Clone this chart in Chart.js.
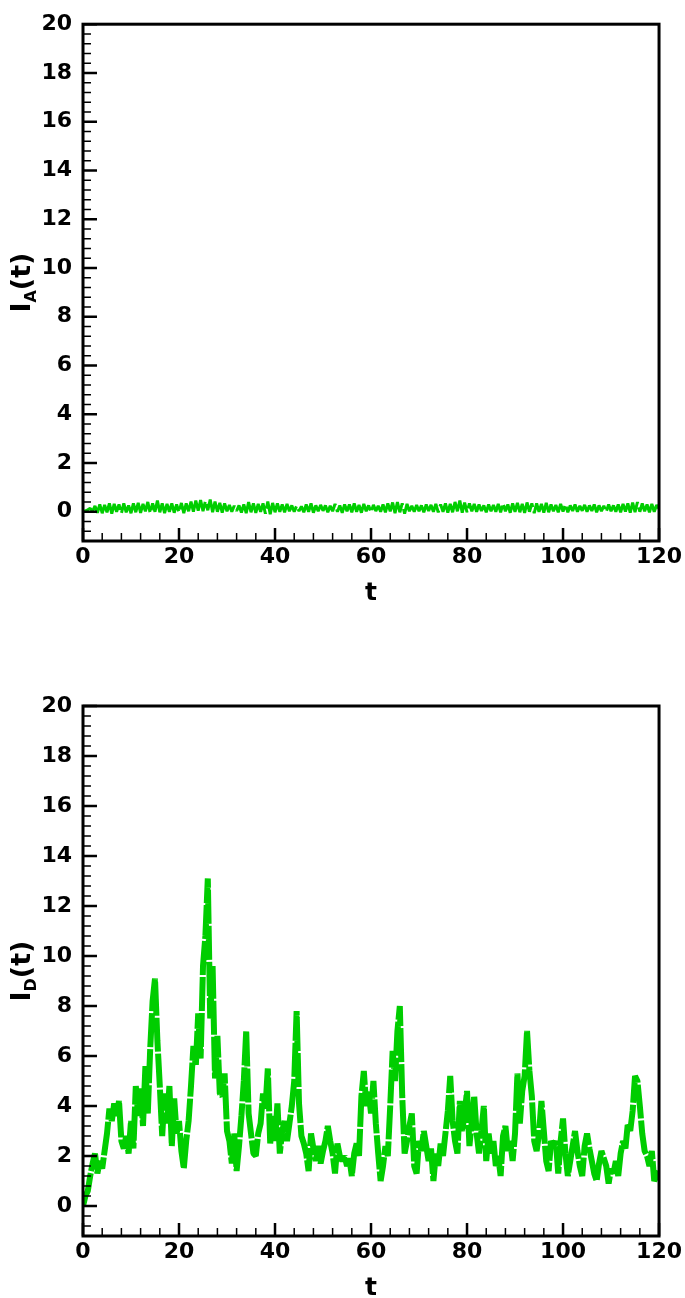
<!DOCTYPE html>
<html>
<head>
<meta charset="utf-8">
<script src="https://cdn.jsdelivr.net/npm/chart.js@4/dist/chart.umd.min.js"></script>
<style>
  body { margin: 0; background: #fff; }
  canvas { position: absolute; left: 0; }
</style>
</head>
<body>
<canvas id="chartA" width="685" height="649" style="top:0"></canvas>
<canvas id="chartD" width="685" height="649" style="top:649px"></canvas>
<script>
// samples every 0.5 time units, t = 0 ... 120
const tStep = 0.5;

const iA = [
  0, 0.04, 0.08, 0.14, 0.02, 0.24, -0.04, 0.3, -0.06, 0.28,
  -0.02, 0.34, -0.08, 0.32, 0.0, 0.3, -0.06, 0.34, -0.02, 0.26,
  -0.06, 0.34, -0.02, 0.36, -0.05, 0.32, 0.02, 0.4, -0.06, 0.34,
  0.0, 0.46, -0.02, 0.34, -0.06, 0.32, 0.0, 0.34, -0.04, 0.3,
  -0.02, 0.36, -0.06, 0.34, 0.02, 0.42, 0.0, 0.46, 0.04, 0.48,
  0.02, 0.44, 0.06, 0.5, -0.02, 0.42, 0.0, 0.36, -0.04, 0.34,
  0.02, 0.28, 0.0, 0.24, 0.04, 0.26, -0.03, 0.3, -0.06, 0.4,
  -0.02, 0.34, -0.05, 0.32, 0.0, 0.34, -0.08, 0.42, -0.1, 0.36,
  -0.02, 0.34, 0.0, 0.3, -0.02, 0.32, 0.02, 0.26, 0.0, 0.24,
  0.03, 0.22, -0.02, 0.3, 0.0, 0.34, -0.04, 0.26, 0.02, 0.28,
  0.04, 0.26, -0.02, 0.24, 0.02, 0.32, 0.0, 0.26, -0.04, 0.3,
  0.02, 0.3, -0.02, 0.34, 0.0, 0.28, -0.04, 0.32, 0.02, 0.26,
  -0.02, 0.28, 0.03, 0.24, 0.0, 0.3, -0.02, 0.34, 0.02, 0.38,
  -0.06, 0.4, -0.02, 0.34, -0.08, 0.32, 0.02, 0.24, 0.0, 0.28,
  0.02, 0.26, -0.02, 0.3, 0.03, 0.28, 0.0, 0.32, -0.02, 0.3,
  0.0, 0.34, -0.04, 0.32, -0.02, 0.4, 0.02, 0.46, -0.04, 0.38,
  -0.02, 0.34, 0.02, 0.32, 0.0, 0.3, 0.03, 0.26, -0.02, 0.3,
  0.02, 0.28, 0.0, 0.32, -0.02, 0.34, 0.02, 0.3, -0.04, 0.34,
  0.0, 0.36, -0.02, 0.32, -0.05, 0.38, 0.0, 0.34, -0.06, 0.34,
  0.0, 0.32, -0.04, 0.36, -0.02, 0.3, 0.02, 0.28, -0.02, 0.32,
  0.01, 0.3, -0.02, 0.26, 0.03, 0.3, 0.0, 0.24, 0.04, 0.28,
  0.0, 0.26, 0.03, 0.3, -0.02, 0.26, 0.02, 0.24, 0.0, 0.3,
  0.02, 0.26, 0.0, 0.3, -0.02, 0.32, 0.01, 0.34, -0.04, 0.38,
  -0.02, 0.4, 0.0, 0.34, 0.02, 0.3, -0.02, 0.32, 0.0, 0.28,
  0.12
];

const iD = [
  0, 0.4, 0.6, 1.2, 1.7, 2.1, 1.3, 1.8, 1.5, 2.2,
  2.9, 3.9, 3.4, 4.1, 3.6, 4.2, 2.6, 2.3, 2.8, 2.1,
  3.4, 2.3, 4.8, 3.6, 4.7, 3.2, 5.6, 3.7, 6.3, 8.2,
  9.1, 6.6, 4.8, 2.8, 4.5, 3.3, 4.8, 2.4, 4.3, 2.9,
  3.4, 2.2, 1.5, 2.6, 3.4, 4.8, 6.4, 5.6, 7.7, 5.9,
  9.6, 10.8, 13.1, 7.5, 9.6, 5.1, 6.8, 4.5, 4.4, 5.3,
  3.0, 2.6, 1.7, 2.9, 1.4, 2.4, 3.6, 5.0, 7.0, 3.7,
  2.9, 2.1, 2.0, 2.9, 3.3, 4.5, 3.9, 5.5, 2.5, 3.6,
  2.6, 4.1, 2.1, 3.0, 3.4, 2.6, 3.3, 4.0, 5.0, 7.8,
  4.1, 2.8, 2.5, 2.1, 1.4, 2.9, 2.3, 1.8, 2.4, 1.7,
  2.2, 2.6, 3.2, 2.6, 2.1, 1.3, 2.5, 2.0, 1.8, 2.0,
  1.6, 1.9, 1.2, 2.1, 2.5, 2.0, 4.4, 5.4, 4.0, 4.6,
  3.7, 5.0, 3.3, 2.1, 1.0, 1.6, 2.4, 2.0, 4.0, 6.2,
  5.0, 7.0, 8.0, 4.4, 2.1, 2.6, 3.2, 3.7, 1.6, 1.3,
  2.6, 2.2, 3.0, 2.4, 1.8, 2.3, 1.0, 2.1, 1.6, 2.5,
  2.0, 2.9, 3.8, 5.2, 3.4, 2.6, 2.1, 4.2, 3.0, 3.7,
  4.6, 2.4, 3.4, 4.4, 2.9, 2.1, 3.0, 4.0, 1.8, 2.9,
  2.1, 2.6, 1.6, 2.0, 1.2, 2.8, 3.2, 2.2, 2.6, 1.8,
  2.9, 5.3, 3.3, 4.6, 5.2, 7.0, 5.4, 4.4, 2.6, 2.2,
  2.9, 4.2, 3.0, 1.8, 1.4, 2.6, 2.4, 2.6, 1.3, 2.6,
  3.5, 2.1, 1.2, 1.8, 2.4, 3.0, 2.2, 1.6, 1.2, 2.4,
  2.9, 2.3, 1.8, 1.3, 1.0, 1.7, 2.2, 1.9, 1.6, 0.9,
  1.5, 1.3, 1.8, 1.2, 2.1, 2.6, 2.3, 3.3, 3.0, 3.8,
  5.2, 5.0, 4.0, 2.9, 2.2, 2.0, 1.6, 2.2, 1.0, 1.2,
  1.4
];

const yTickValues = [0, 2, 4, 6, 8, 10, 12, 14, 16, 18, 20];
const xTickValues = [0, 20, 40, 60, 80, 100, 120];
const yMinorStep = 0.4;
const xMinorStep = 4;

const FONT = '"DejaVu Sans", sans-serif';
const GREEN = 'rgb(0, 205, 0)';

function minorTicks(min, max, step, majors) {
  const out = [];
  for (let i = Math.ceil(min / step); i * step <= max + 1e-9; i++) {
    const v = +(i * step).toFixed(4);
    if (!majors.some(m => Math.abs(m - v) < 1e-6)) out.push(v);
  }
  return out;
}

const framePlugin = {
  id: 'frame',
  afterDatasetsDraw(chart, args, opts) {
    const { ctx, chartArea: a, scales: { x, y } } = chart;
    ctx.save();
    ctx.strokeStyle = '#000';
    ctx.lineCap = 'butt';

    ctx.lineWidth = 1.5;
    ctx.beginPath();
    minorTicks(y.min, y.max, yMinorStep, yTickValues).forEach(v => {
      const py = y.getPixelForValue(v);
      ctx.moveTo(a.left, py); ctx.lineTo(a.left + 8, py);
    });
    minorTicks(x.min, x.max, xMinorStep, xTickValues).forEach(v => {
      const px = x.getPixelForValue(v);
      ctx.moveTo(px, a.bottom); ctx.lineTo(px, a.bottom - 8);
    });
    ctx.stroke();

    ctx.lineWidth = 2.5;
    ctx.beginPath();
    yTickValues.forEach(v => {
      const py = y.getPixelForValue(v);
      ctx.moveTo(a.left, py); ctx.lineTo(a.left + 14, py);
    });
    xTickValues.forEach(v => {
      const px = x.getPixelForValue(v);
      ctx.moveTo(px, a.bottom); ctx.lineTo(px, a.bottom - 13);
    });
    ctx.stroke();

    ctx.lineWidth = 3;
    ctx.strokeRect(a.left, a.top, a.right - a.left, a.bottom - a.top);

    // axis titles
    ctx.fillStyle = '#000';
    ctx.textBaseline = 'alphabetic';
    ctx.textAlign = 'center';
    ctx.font = 'bold 25px ' + FONT;
    ctx.fillText('t', (a.left + a.right) / 2, a.bottom + 59);

    ctx.translate(30, (a.top + a.bottom) / 2);
    ctx.rotate(-Math.PI / 2);
    ctx.textAlign = 'left';
    const big = 'bold 27px ' + FONT, small = 'bold 16px ' + FONT;
    ctx.font = big;
    const wI = ctx.measureText('I').width, wP = ctx.measureText('(t)').width;
    ctx.font = small;
    const wS = ctx.measureText(opts.sub).width;
    let px = -(wI + wS + wP) / 2;
    ctx.font = big; ctx.fillText('I', px, 0); px += wI;
    ctx.font = small; ctx.fillText(opts.sub, px, 6); px += wS;
    ctx.font = big; ctx.fillText('(t)', px, 0);
    ctx.restore();
  }
};

function makeChart(id, values, sub, padTop, lineWidth, dash) {
  const points = values.map((v, i) => ({ x: i * tStep, y: v }));
  return new Chart(document.getElementById(id), {
    type: 'line',
    data: {
      datasets: [{
        data: points,
        borderColor: GREEN,
        borderWidth: lineWidth,
        borderDash: dash,
        borderJoinStyle: 'bevel',
        pointRadius: 0,
        tension: 0,
        fill: false
      }]
    },
    options: {
      responsive: false,
      animation: false,
      events: [],
      layout: { padding: { top: padTop, right: 23, left: 0, bottom: 0 } },
      plugins: {
        legend: { display: false },
        tooltip: { enabled: false },
        frame: { sub: sub }
      },
      scales: {
        x: {
          type: 'linear',
          min: 0, max: 120,
          afterFit: s => { s.height = 649 - padTop - 530; },
          afterBuildTicks: s => { s.ticks = xTickValues.map(v => ({ value: v })); },
          grid: { display: false, drawTicks: false },
          border: { display: false },
          ticks: {
            autoSkip: false, maxRotation: 0, padding: 3,
            color: '#000',
            font: { family: FONT, size: 22, weight: 'bold' }
          }
        },
        y: {
          type: 'linear',
          min: -1.2, max: 20,
          afterFit: s => { s.width = 83; },
          afterBuildTicks: s => { s.ticks = yTickValues.map(v => ({ value: v })); },
          grid: { display: false, drawTicks: false },
          border: { display: false },
          ticks: {
            padding: 11,
            color: '#000',
            font: { family: FONT, size: 22, weight: 'bold' }
          }
        }
      }
    },
    plugins: [framePlugin]
  });
}

makeChart('chartA', iA, 'A', 11, 3, [110, 4]);
makeChart('chartD', iD, 'D', 57, 6, [34, 2]);
</script>
</body>
</html>
